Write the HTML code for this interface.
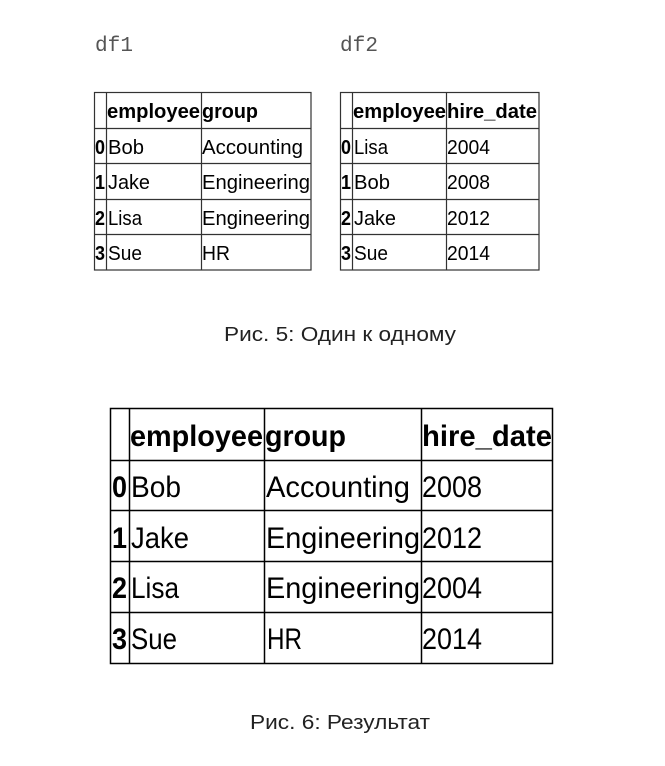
<!DOCTYPE html>
<html><head><meta charset="utf-8"><style>
html,body{margin:0;padding:0;background:#fff;width:665px;height:766px;overflow:hidden}
svg{display:block}
text{font-family:"Liberation Sans",sans-serif;fill:#000}
.m{font-family:"Liberation Mono",monospace;fill:#555;font-size:21px}
.h{font-weight:bold}
.cap{fill:#222;font-size:20px}
</style></head><body>
<svg width="665" height="766" viewBox="0 0 665 766" xmlns="http://www.w3.org/2000/svg">
<text class="m" x="95" y="51" textLength="38" lengthAdjust="spacingAndGlyphs">df1</text>
<text class="m" x="340" y="51" textLength="38" lengthAdjust="spacingAndGlyphs">df2</text>
<g stroke="#333" stroke-width="1.2" fill="none">
<rect x="94.5" y="92.5" width="216.5" height="177.5"/>
<line x1="106.5" y1="92" x2="106.5" y2="270"/><line x1="201.5" y1="92" x2="201.5" y2="270"/>
<line x1="94" y1="128.5" x2="311" y2="128.5"/><line x1="94" y1="163.5" x2="311" y2="163.5"/><line x1="94" y1="199.5" x2="311" y2="199.5"/><line x1="94" y1="234.5" x2="311" y2="234.5"/>
<rect x="340.5" y="92.5" width="198.5" height="177.5"/>
<line x1="352.5" y1="92" x2="352.5" y2="270"/><line x1="446.5" y1="92" x2="446.5" y2="270"/>
<line x1="340" y1="128.5" x2="539" y2="128.5"/><line x1="340" y1="163.5" x2="539" y2="163.5"/><line x1="340" y1="199.5" x2="539" y2="199.5"/><line x1="340" y1="234.5" x2="539" y2="234.5"/>
</g>
<g font-size="20.5">
<text class="h" x="107" y="118" textLength="93" lengthAdjust="spacingAndGlyphs">employee</text>
<text class="h" x="202" y="118" textLength="56" lengthAdjust="spacingAndGlyphs">group</text>
<text class="h" x="95" y="154" textLength="10" lengthAdjust="spacingAndGlyphs">0</text><text x="108" y="154" textLength="36" lengthAdjust="spacingAndGlyphs">Bob</text><text x="202" y="154" textLength="101" lengthAdjust="spacingAndGlyphs">Accounting</text>
<text class="h" x="95" y="189" textLength="10" lengthAdjust="spacingAndGlyphs">1</text><text x="108" y="189" textLength="42" lengthAdjust="spacingAndGlyphs">Jake</text><text x="202" y="189" textLength="108" lengthAdjust="spacingAndGlyphs">Engineering</text>
<text class="h" x="95" y="225" textLength="10" lengthAdjust="spacingAndGlyphs">2</text><text x="108" y="225" textLength="34" lengthAdjust="spacingAndGlyphs">Lisa</text><text x="202" y="225" textLength="108" lengthAdjust="spacingAndGlyphs">Engineering</text>
<text class="h" x="95" y="260" textLength="10" lengthAdjust="spacingAndGlyphs">3</text><text x="108" y="260" textLength="34" lengthAdjust="spacingAndGlyphs">Sue</text><text x="202" y="260" textLength="28" lengthAdjust="spacingAndGlyphs">HR</text>
<text class="h" x="353" y="118" textLength="93" lengthAdjust="spacingAndGlyphs">employee</text>
<text class="h" x="447" y="118" textLength="90" lengthAdjust="spacingAndGlyphs">hire_date</text>
<text class="h" x="341" y="154" textLength="10" lengthAdjust="spacingAndGlyphs">0</text><text x="354" y="154" textLength="34" lengthAdjust="spacingAndGlyphs">Lisa</text><text x="447" y="154" textLength="43" lengthAdjust="spacingAndGlyphs">2004</text>
<text class="h" x="341" y="189" textLength="10" lengthAdjust="spacingAndGlyphs">1</text><text x="354" y="189" textLength="36" lengthAdjust="spacingAndGlyphs">Bob</text><text x="447" y="189" textLength="43" lengthAdjust="spacingAndGlyphs">2008</text>
<text class="h" x="341" y="225" textLength="10" lengthAdjust="spacingAndGlyphs">2</text><text x="354" y="225" textLength="42" lengthAdjust="spacingAndGlyphs">Jake</text><text x="447" y="225" textLength="43" lengthAdjust="spacingAndGlyphs">2012</text>
<text class="h" x="341" y="260" textLength="10" lengthAdjust="spacingAndGlyphs">3</text><text x="354" y="260" textLength="34" lengthAdjust="spacingAndGlyphs">Sue</text><text x="447" y="260" textLength="43" lengthAdjust="spacingAndGlyphs">2014</text>
</g>
<text class="cap" x="224" y="341" textLength="232" lengthAdjust="spacingAndGlyphs">Рис. 5: Один к одному</text>
<g stroke="#000" stroke-width="1.5" fill="none">
<rect x="110.5" y="408.5" width="442" height="255"/>
<line x1="129.5" y1="408" x2="129.5" y2="664"/><line x1="264.5" y1="408" x2="264.5" y2="664"/><line x1="421.5" y1="408" x2="421.5" y2="664"/>
<line x1="110" y1="460.5" x2="553" y2="460.5"/><line x1="110" y1="510.5" x2="553" y2="510.5"/><line x1="110" y1="561.5" x2="553" y2="561.5"/><line x1="110" y1="612.5" x2="553" y2="612.5"/>
</g>
<g font-size="30">
<text class="h" x="130" y="446" textLength="133" lengthAdjust="spacingAndGlyphs">employee</text>
<text class="h" x="265" y="446" textLength="81" lengthAdjust="spacingAndGlyphs">group</text>
<text class="h" x="422" y="446" textLength="130" lengthAdjust="spacingAndGlyphs">hire_date</text>
<text class="h" x="112" y="497" textLength="15" lengthAdjust="spacingAndGlyphs">0</text><text x="131" y="497" textLength="50" lengthAdjust="spacingAndGlyphs">Bob</text><text x="266" y="497" textLength="144" lengthAdjust="spacingAndGlyphs">Accounting</text><text x="422" y="497" textLength="60" lengthAdjust="spacingAndGlyphs">2008</text>
<text class="h" x="112" y="548" textLength="15" lengthAdjust="spacingAndGlyphs">1</text><text x="131" y="548" textLength="58" lengthAdjust="spacingAndGlyphs">Jake</text><text x="266" y="548" textLength="154" lengthAdjust="spacingAndGlyphs">Engineering</text><text x="422" y="548" textLength="60" lengthAdjust="spacingAndGlyphs">2012</text>
<text class="h" x="112" y="598" textLength="15" lengthAdjust="spacingAndGlyphs">2</text><text x="131" y="598" textLength="48" lengthAdjust="spacingAndGlyphs">Lisa</text><text x="266" y="598" textLength="154" lengthAdjust="spacingAndGlyphs">Engineering</text><text x="422" y="598" textLength="60" lengthAdjust="spacingAndGlyphs">2004</text>
<text class="h" x="112" y="649" textLength="15" lengthAdjust="spacingAndGlyphs">3</text><text x="131" y="649" textLength="46" lengthAdjust="spacingAndGlyphs">Sue</text><text x="267" y="649" textLength="35" lengthAdjust="spacingAndGlyphs">HR</text><text x="422" y="649" textLength="60" lengthAdjust="spacingAndGlyphs">2014</text>
</g>
<text class="cap" x="250" y="729" textLength="180" lengthAdjust="spacingAndGlyphs">Рис. 6: Результат</text>
</svg>
</body></html>
